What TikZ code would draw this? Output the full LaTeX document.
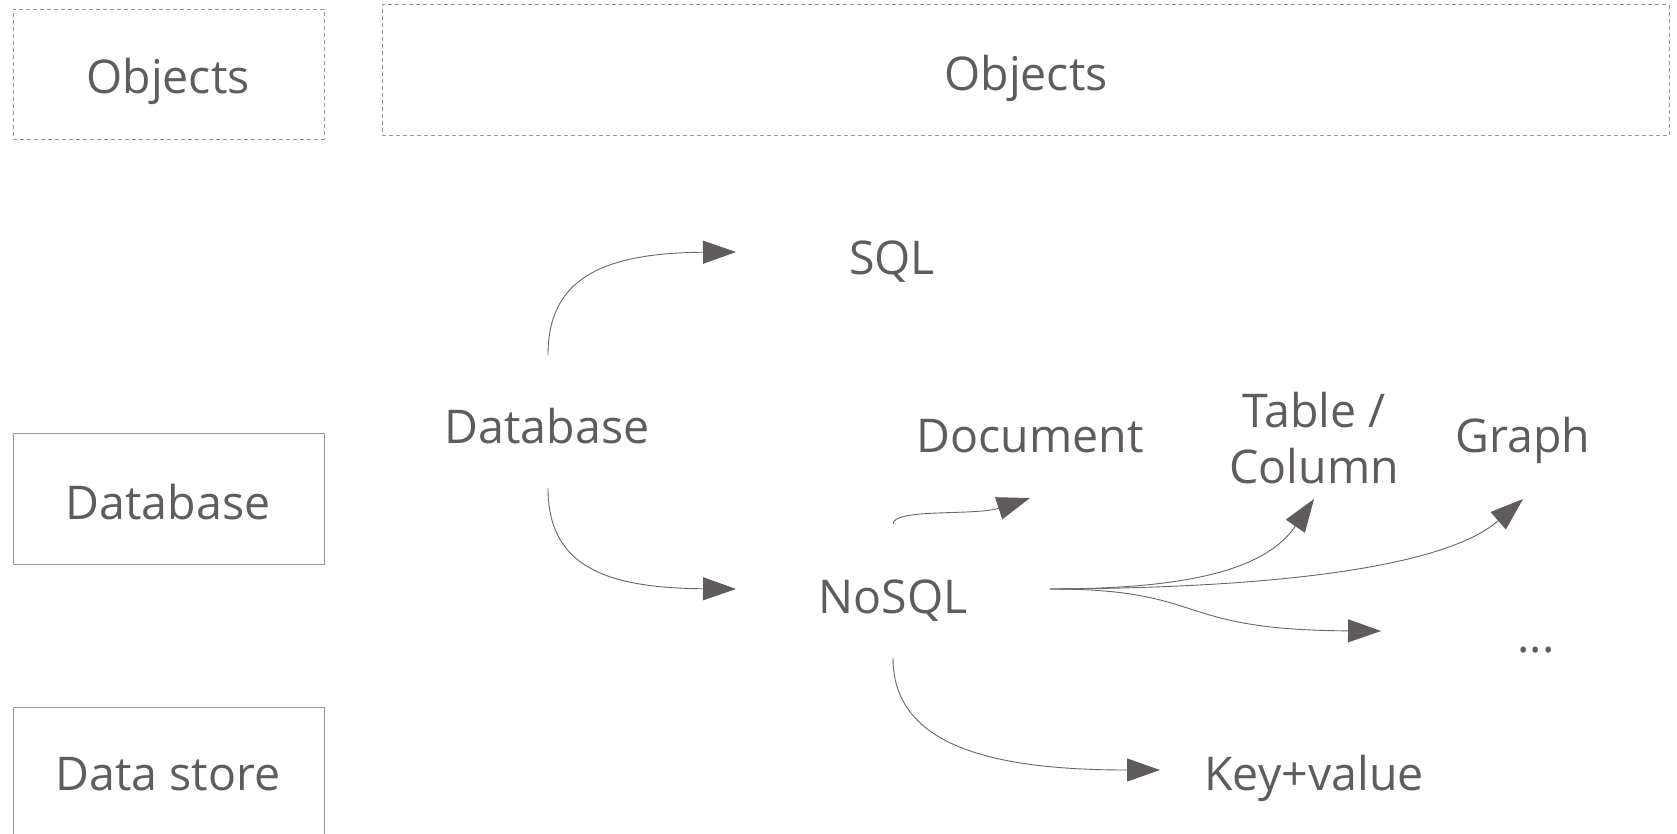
\documentclass[tikz,border=0pt]{standalone}
\usepackage{fontspec}
\setmainfont{Open Sans}
\usetikzlibrary{arrows.meta}
\definecolor{inkgray}{RGB}{96,91,95}
\definecolor{linegray}{RGB}{105,101,104}
\definecolor{framegray}{RGB}{150,150,150}
\begin{document}
\begin{tikzpicture}[x=1pt,y=-1pt,
  lbl/.style={anchor=base,inner sep=0pt,text=inkgray,font=\fontsize{46.5}{56}\selectfont},
  frame/.style={draw=framegray,line width=1pt,minimum width=311pt,minimum height=130pt,inner sep=0pt},
  dashframe/.style={frame,dash pattern=on 4pt off 3pt},
  link/.style={draw=linegray,line width=0.9pt,-{Triangle[length=33pt,width=23pt,fill=inkgray,color=inkgray]}}]
\useasboundingbox (0,0) rectangle (1677,834);

% layer frames
\node[dashframe] (objL) at (168.5,74.5) {};
\node[dashframe,minimum width=1287pt,minimum height=131pt] (objR) at (1025.5,70.5) {};
\node[frame,minimum height=131pt] (dbBox) at (168.5,498.5) {};
\node[frame,minimum height=131pt] (dsBox) at (168.5,772.5) {};

% frame labels
\node[lbl] (objLt) at (168,94) {Objects};
\node[lbl] (objRt) at (1026,91) {Objects};
\node[lbl] (dbBoxt) at (168,519) {Database};
\node[lbl] (dsBoxt) at (168,790) {Data store};

% tree labels (base anchor of a two-line label is its last line)
\node[lbl] (db) at (547,443) {Database};
\node[lbl] (sql) at (892,274) {SQL};
\node[lbl] (nosql) at (893,613) {NoSQL};
\node[lbl] (doc) at (1030,452) {Document};
\node[lbl,align=center] (tabcol) at (1314,483) {Table /\\Column};
\node[lbl] (graph) at (1523,452) {Graph};
\node[lbl] (more) at (1536,652) {...};
\node[lbl] (kv) at (1314,790) {Key+value};

% connector end points
\coordinate (dbTop) at (548,355);
\coordinate (dbBot) at (548,488);
\coordinate (sqlIn) at (736,252);
\coordinate (nosqlIn) at (736,589);
\coordinate (nsTop) at (893,524);
\coordinate (nsBot) at (893,658);
\coordinate (nsRight) at (1050,589);
\coordinate (docIn) at (1030,498);
\coordinate (tabIn) at (1314,499);
\coordinate (graphIn) at (1523,499);
\coordinate (moreIn) at (1381,631);
\coordinate (kvIn) at (1160,770);

% connectors
\draw[link] (dbTop) .. controls (548,280) and (600,253) .. (sqlIn);
\draw[link] (dbBot) .. controls (548,563) and (600,588) .. (nosqlIn);
\draw[link] (nsTop) .. controls (893,508) and (975,516) .. (docIn);
\draw[link] (nsRight) .. controls (1200,589) and (1268,566) .. (tabIn);
\draw[link] (nsRight) .. controls (1300,588) and (1450,563) .. (graphIn);
\draw[link] (nsRight) .. controls (1210,589) and (1170,630) .. (moreIn);
\draw[link] (nsBot) .. controls (893,745) and (990,770) .. (kvIn);
\end{tikzpicture}
\end{document}
